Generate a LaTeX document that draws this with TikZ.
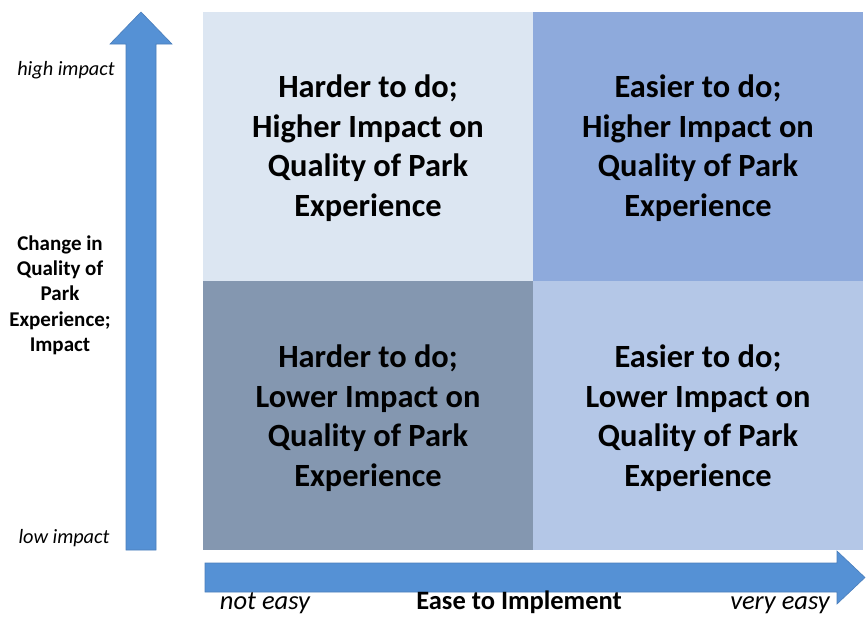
\documentclass[tikz,border=0pt]{standalone}
\usepackage{fontspec}
\setmainfont{Carlito}
\definecolor{tlfill}{HTML}{DCE6F2}
\definecolor{trfill}{HTML}{8EAADC}
\definecolor{blfill}{HTML}{8497B0}
\definecolor{brfill}{HTML}{B4C7E7}
\definecolor{arrowfill}{HTML}{5591D5}
\definecolor{arrowedge}{HTML}{4A7EBB}
\tikzset{
    quadtext/.style={align=center, font=\bfseries\fontsize{32.4}{39.5}\selectfont, text=black},
    axistag/.style={font=\itshape\fontsize{20.3}{23}\selectfont, text=black},
    easetag/.style={anchor=base, inner sep=0pt, font=\itshape\fontsize{26.5}{30}\selectfont, text=black},
    axistitle/.style={align=center, font=\bfseries\fontsize{21}{25.3}\selectfont, text=black},
    easetitle/.style={anchor=base, inner sep=0pt, font=\bfseries\fontsize{26.5}{30}\selectfont, text=black},
    bigarrow/.style={fill=arrowfill, draw=arrowedge, line width=0.6pt}
}
\begin{document}
\begin{tikzpicture}[x=1pt,y=-1pt]
        \useasboundingbox (0,0) rectangle (867,616);

        % the four quadrants
        \fill[tlfill] (203,12) rectangle (533,281);
        \fill[trfill] (533,12) rectangle (863,281);
        \fill[blfill] (203,281) rectangle (533,550);
        \fill[brfill] (533,281) rectangle (863,550);

        \node[quadtext] (hardhigh) at (368,148) {Harder to do;\\Higher Impact on\\Quality of Park\\Experience};
        \node[quadtext] (easyhigh) at (698,148) {Easier to do;\\Higher Impact on\\Quality of Park\\Experience};
        \node[quadtext] (hardlow) at (368,418) {Harder to do;\\Lower Impact on\\Quality of Park\\Experience};
        \node[quadtext] (easylow) at (698,418) {Easier to do;\\Lower Impact on\\Quality of Park\\Experience};

        % impact axis
        \draw[bigarrow] (126,550) -- (126,44) -- (110,44) -- (141,12) -- (172,44) -- (156,44) -- (156,550) -- cycle;
        \node[axistag] (high) at (66,70) {high impact};
        \node[axistag] (low) at (64,538) {low impact};
        \node[axistitle] (impact) at (60,295) {Change in\\Quality of\\Park\\Experience;\\Impact};

        % ease axis
        \draw[bigarrow] (205,563) -- (837,563) -- (837,551) -- (865,577.5) -- (837,604) -- (837,592) -- (205,592) -- cycle;
        \node[easetag] (noteasy) at (265,609) {not easy};
        \node[easetag] (veryeasy) at (780,609) {very easy};
        \node[easetitle] (ease) at (519,609) {Ease to Implement};
    \end{tikzpicture}
\end{document}
